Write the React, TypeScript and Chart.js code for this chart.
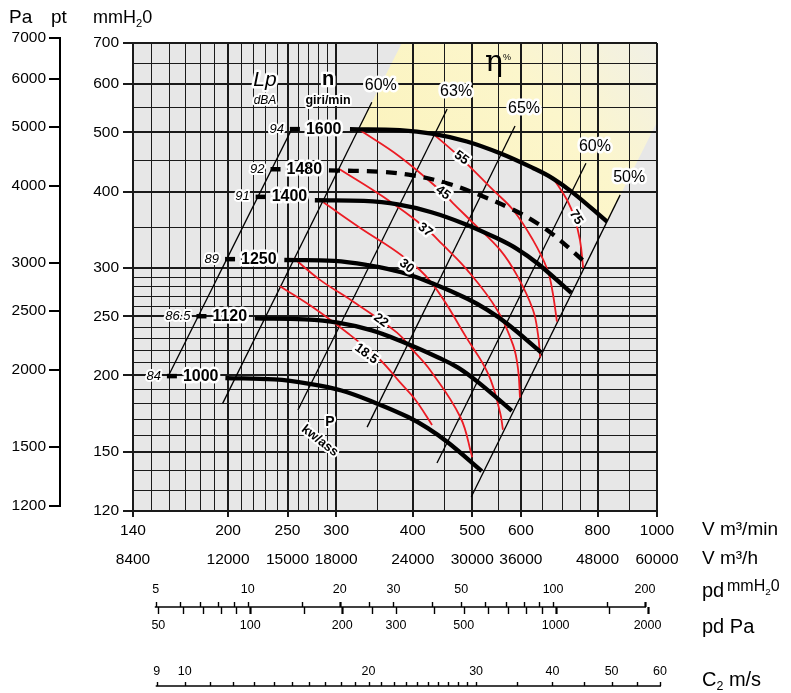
import React, { useEffect, useRef } from 'react';
import { Chart, registerables } from 'chart.js';

Chart.register(...registerables);

const FONT = '"Liberation Sans", Arial, Helvetica, sans-serif';
const PA_PER_MM = 9.81;

// ---------- Fan curves: flow V (m³/min) vs total pressure pt (mmH2O) ----------
const speedLabels = ['1600', '1480', '1400', '1250', '1120', '1000'];
const flow1600 = [316, 381, 432, 490, 555, 628, 677, 730, 829];
const press1600 = [506, 504, 497, 483, 462, 437, 420, 398, 357];
const flow1480 = [292, 352, 400, 453, 513, 581, 626, 675, 767];
const press1480 = [433, 431, 425, 413, 395, 374, 359, 341, 305];
const flow1400 = [277, 333, 378, 429, 486, 550, 592, 639, 725];
const press1400 = [387, 386, 381, 370, 354, 335, 322, 305, 273];
const flow1250 = [247, 298, 338, 383, 434, 491, 529, 570, 648];
const press1250 = [309, 308, 303, 295, 282, 267, 256, 243, 218];
const flow1120 = [221, 267, 302, 343, 389, 440, 474, 511, 580];
const press1120 = [248, 247, 244, 237, 226, 214, 206, 195, 175];
const flow1000 = [198, 238, 270, 306, 347, 393, 423, 456, 518];
const press1000 = [198, 197, 194, 189, 180.5, 171, 164, 155.5, 139.5];

// ---------- Sound pressure level Lp (dBA) line ----------
const dbaLabels = ['94', '92', '91', '89', '86.5', '84'];
const dbaMarkFlow = [257, 239, 226, 201.5, 181, 162];
const dbaMarkPress = [506, 435, 392, 310, 250, 199.5];
const lpLineFlow = [160, 254];
const lpLinePress = [200, 506];

// ---------- Efficiency (system) lines ----------
const effLabels = ['60%', '63%', '65%', '60%', '50%'];
const effFlowLow = [196, 260, 337, 438, 498];
const effPressLow = [180, 175.6, 164.6, 143.8, 126.5];
const effFlowHigh = [343, 455, 587, 766, 871];
const effPressHigh = [560, 546, 512, 445, 395];

// ---------- Absorbed power lines P (kW) ----------
const powerLabels = ['18.5', '22', '30', '37', '45', '55', '75'];
const p185Flow = [243, 279, 316, 354, 381, 403, 430];
const p185Press = [280, 256, 233, 212, 195, 183, 166];
const p22Flow = [256, 282, 320, 377, 400, 427, 478, 500];
const p22Press = [311, 287, 264, 235, 220, 204, 171, 147];
const p30Flow = [286, 328, 386, 430, 490, 531, 555, 561];
const p30Press = [384, 349, 313, 283, 230, 201, 174, 163];
const p37Flow = [304, 358, 419, 448, 490, 549, 583, 594, 598];
const p37Press = [435, 392, 349, 327, 298, 256, 224, 204, 184];
const p45Flow = [326, 381, 448, 465, 502, 555, 592, 628, 640, 645];
const p45Press = [506, 456, 398, 383, 355, 321, 291, 256, 233, 214];
const p55Flow = [430, 481, 541, 583, 628, 662, 675, 687];
const p55Press = [499, 452, 402, 373, 333, 299, 276, 245];
const p75Flow = [677, 714, 733, 749, 758];
const p75Press = [421, 387, 363, 333, 300];
const powerLabelFlow = [336, 355, 391, 419, 448, 480, 738];
const powerLabelPress = [217, 246, 302, 346, 398, 454, 363];
const powerLabelAngle = [36, 37, 38, 38, 37, 36, 58];

// ---------- Highlighted (best efficiency) band edge ----------
const bandEdgeFlow = [326, 384, 1000, 1000];
const bandEdgePress = [506, 700, 700, 520];

// ---------- Axes ----------
const gridFlow = [140, 150, 160, 170, 180, 190, 200, 210, 220, 230, 240, 250, 260, 270, 280, 290, 300,
  350, 400, 450, 500, 550, 600, 650, 700, 750, 800, 900, 1000];
const gridPress = [120, 130, 140, 150, 160, 170, 180, 190, 200, 210, 220, 230, 240, 250, 260, 270, 280, 290, 300,
  350, 400, 450, 500, 550, 600, 650, 700];
const flowTicks = [140, 200, 250, 300, 400, 500, 600, 800, 1000];
const flowHourTicks = [8400, 12000, 15000, 18000, 24000, 30000, 36000, 48000, 60000];
const pressTicks = [120, 150, 200, 250, 300, 400, 500, 600, 700];
const paTicks = [1200, 1500, 2000, 2500, 3000, 4000, 5000, 6000, 7000];
const pdMmTicks = [5, 6, 7, 8, 9, 10, 15, 20, 25, 30, 40, 50, 60, 70, 80, 90, 100, 150, 200];
const pdMmLabels = [5, 10, 20, 30, 50, 100, 200];
const pdPaTicks = [50, 60, 70, 80, 90, 100, 150, 200, 250, 300, 400, 500, 600, 700, 800, 900, 1000, 1500, 2000];
const pdPaLabels = [50, 100, 200, 300, 500, 1000, 2000];
const c2Ticks = [9, 10, 11, 12, 13, 14, 15, 16, 17, 18, 19, 20, 21, 22, 23, 24, 25, 26, 27, 28, 29, 30,
  35, 40, 45, 50, 55, 60];
const c2Labels = [9, 10, 20, 30, 40, 50, 60];

const pts = (xs: number[], ys: number[]) => xs.map((x, i) => ({ x, y: ys[i] }));

function drawText(ctx: any, s: string, x: number, y: number, font: string, align: string = 'center',
  halo = 0, angle = 0, color = '#000') {
  ctx.save();
  ctx.translate(x, y);
  if (angle) ctx.rotate((angle * Math.PI) / 180);
  ctx.font = font;
  ctx.textAlign = align;
  ctx.textBaseline = 'middle';
  if (halo) {
    ctx.lineJoin = 'round';
    ctx.lineWidth = halo;
    ctx.strokeStyle = '#fff';
    ctx.strokeText(s, 0, 0);
  }
  ctx.fillStyle = color;
  ctx.fillText(s, 0, 0);
  ctx.restore();
}

function drawParts(ctx: any, parts: [string, string][], x: number, y: number, size: number) {
  let cx = x;
  ctx.save();
  ctx.fillStyle = '#000';
  ctx.textAlign = 'left';
  ctx.textBaseline = 'middle';
  for (const [s, kind] of parts) {
    const fs = kind === 'n' ? size : size * 0.62;
    const dy = kind === 'sub' ? size * 0.32 : kind === 'sup' ? -size * 0.35 : 0;
    ctx.font = `${fs}px ${FONT}`;
    ctx.fillText(s, cx, y + dy);
    cx += ctx.measureText(s).width;
  }
  ctx.restore();
}

const fanPlugin = {
  id: 'fanPlugin',
  beforeDatasetsDraw(chart: any) {
    const ctx = chart.ctx;
    const a = chart.chartArea;
    const sx = chart.scales.x;
    const sy = chart.scales.y;
    const sc2 = chart.scales.c2;
    const spd = chart.scales.pd;
    const X = (v: number) => sx.getPixelForValue(v);
    const Y = (v: number) => sy.getPixelForValue(v);
    ctx.save();

    // plot background
    ctx.fillStyle = '#e7e7e7';
    ctx.fillRect(a.left, a.top, a.right - a.left, a.bottom - a.top);

    // highlighted band
    ctx.save();
    ctx.beginPath();
    ctx.rect(a.left, a.top, a.right - a.left, a.bottom - a.top);
    ctx.clip();
    const grad = ctx.createLinearGradient(X(420), Y(330), X(1000), Y(700));
    grad.addColorStop(0, '#fbf3bc');
    grad.addColorStop(0.6, '#fcf6cc');
    grad.addColorStop(1, '#f1f0e6');
    ctx.fillStyle = grad;
    ctx.beginPath();
    bandEdgeFlow.forEach((f, i) => {
      const px = X(f), py = Y(bandEdgePress[i]);
      if (i) ctx.lineTo(px, py); else ctx.moveTo(px, py);
    });
    for (let i = flow1600.length - 1; i >= 0; i--) {
      if (flow1600[i] > bandEdgeFlow[0]) ctx.lineTo(X(flow1600[i]), Y(press1600[i]));
    }
    ctx.closePath();
    ctx.fill();
    ctx.restore();

    // grid
    ctx.strokeStyle = '#1a1a1a';
    gridFlow.forEach((f) => {
      const major = flowTicks.includes(f);
      ctx.lineWidth = major ? 2 : 1;
      const px = major ? Math.round(X(f)) : Math.round(X(f)) + 0.5;
      ctx.beginPath();
      ctx.moveTo(px, a.top);
      ctx.lineTo(px, a.bottom + (major ? 6 : 0));
      ctx.stroke();
    });
    gridPress.forEach((p) => {
      const major = pressTicks.includes(p);
      ctx.lineWidth = major ? 2 : 1;
      const py = major ? Math.round(Y(p)) : Math.round(Y(p)) + 0.5;
      ctx.beginPath();
      ctx.moveTo(a.left - (major ? 10 : 0), py);
      ctx.lineTo(a.right, py);
      ctx.stroke();
    });

    // left mmH2O labels
    pressTicks.forEach((p) => drawText(ctx, String(p), a.left - 14, Y(p), `15.5px ${FONT}`, 'right'));

    // Pa axis
    const axX = 60;
    ctx.lineWidth = 2;
    ctx.strokeStyle = '#000';
    ctx.beginPath();
    ctx.moveTo(axX, Y(paTicks[paTicks.length - 1] / PA_PER_MM) - 1);
    ctx.lineTo(axX, Y(paTicks[0] / PA_PER_MM) + 1);
    ctx.stroke();
    paTicks.forEach((pa) => {
      const py = Math.round(Y(pa / PA_PER_MM));
      ctx.beginPath();
      ctx.moveTo(axX - 11, py);
      ctx.lineTo(axX, py);
      ctx.stroke();
      drawText(ctx, String(pa), axX - 14, py, `15.5px ${FONT}`, 'right');
    });

    // headers
    drawText(ctx, 'Pa', 9, 18, `19px ${FONT}`, 'left');
    drawText(ctx, 'pt', 51, 18, `19px ${FONT}`, 'left');
    drawParts(ctx, [['mmH', 'n'], ['2', 'sub'], ['0', 'n']], 93, 18, 18);

    // bottom flow labels
    flowTicks.forEach((f) => drawText(ctx, String(f), X(f), 531, `15.5px ${FONT}`));
    flowHourTicks.forEach((h) => drawText(ctx, String(h), X(h / 60), 560, `15.5px ${FONT}`));
    drawText(ctx, 'V m\u00b3/min', 702, 530, `19px ${FONT}`, 'left');
    drawText(ctx, 'V m\u00b3/h', 702, 559, `19px ${FONT}`, 'left');

    // dynamic pressure axis
    const PDY = 607;
    const PX = (mm: number) => spd.getPixelForValue(mm);
    ctx.lineWidth = 1.6;
    ctx.beginPath();
    ctx.moveTo(PX(pdMmTicks[0]) - 1, PDY);
    ctx.lineTo(PX(pdMmTicks[pdMmTicks.length - 1]) + 1, PDY);
    ctx.stroke();
    pdMmTicks.forEach((v) => {
      const px = Math.round(PX(v)) + 0.5;
      ctx.lineWidth = v === 20 || v === 200 ? 2.2 : 1.4;
      ctx.beginPath();
      ctx.moveTo(px, PDY - 5);
      ctx.lineTo(px, PDY);
      ctx.stroke();
    });
    pdPaTicks.forEach((v) => {
      const px = Math.round(PX(v / PA_PER_MM)) + 0.5;
      ctx.lineWidth = v === 100 || v === 200 || v === 1000 || v === 2000 ? 2.2 : 1.4;
      ctx.beginPath();
      ctx.moveTo(px, PDY);
      ctx.lineTo(px, PDY + 7);
      ctx.stroke();
    });
    pdMmLabels.forEach((v) => drawText(ctx, String(v), PX(v), 590, `12.5px ${FONT}`));
    pdPaLabels.forEach((v) => drawText(ctx, String(v), PX(v / PA_PER_MM), 626, `12.5px ${FONT}`));
    drawText(ctx, 'pd', 702, 591, `20px ${FONT}`, 'left');
    drawParts(ctx, [['mmH', 'n'], ['2', 'sub'], ['0', 'n']], 727, 587, 16);
    drawText(ctx, 'pd Pa', 702, 627, `20px ${FONT}`, 'left');

    // outlet velocity axis
    const C2Y = 686;
    const CX = (v: number) => sc2.getPixelForValue(v);
    ctx.lineWidth = 1.6;
    ctx.beginPath();
    ctx.moveTo(CX(c2Ticks[0]) - 1, C2Y);
    ctx.lineTo(CX(c2Ticks[c2Ticks.length - 1]) + 1, C2Y);
    ctx.stroke();
    ctx.lineWidth = 1.4;
    c2Ticks.forEach((v) => {
      const px = Math.round(CX(v)) + 0.5;
      ctx.beginPath();
      ctx.moveTo(px, C2Y - 4);
      ctx.lineTo(px, C2Y);
      ctx.stroke();
    });
    c2Labels.forEach((v) => drawText(ctx, String(v), CX(v), 672, `12.5px ${FONT}`));
    drawParts(ctx, [['C', 'n'], ['2', 'sub'], [' m/s', 'n']], 702, 680, 20);

    ctx.restore();
  },
  afterDatasetsDraw(chart: any) {
    const ctx = chart.ctx;
    const sx = chart.scales.x;
    const sy = chart.scales.y;
    const X = (v: number) => sx.getPixelForValue(v);
    const Y = (v: number) => sy.getPixelForValue(v);
    ctx.save();

    // dBA marks and speed labels
    dbaLabels.forEach((lab, i) => {
      const px = X(dbaMarkFlow[i]);
      const py = Y(dbaMarkPress[i]);
      drawText(ctx, lab, px - 11, py, `italic 13px ${FONT}`, 'right', 4);
      drawText(ctx, speedLabels[i], px + 11, py, `bold 16px ${FONT}`, 'left', 5);
      ctx.strokeStyle = '#000';
      ctx.lineWidth = 4.5;
      ctx.beginPath();
      ctx.moveTo(px - 5, py);
      ctx.lineTo(px + 5, py);
      ctx.stroke();
    });

    drawText(ctx, 'Lp', 265, 80, `italic 21px ${FONT}`, 'center', 5);
    drawText(ctx, 'dBA', 265, 101, `italic 12px ${FONT}`, 'center', 4);
    drawText(ctx, 'n', 328, 79, `bold 20px ${FONT}`, 'center', 5);
    drawText(ctx, 'giri/min', 328, 101, `bold 12.5px ${FONT}`, 'center', 4);

    // efficiency labels
    effLabels.forEach((lab, i) => {
      drawText(ctx, lab, X(effFlowHigh[i]) + 9, Y(effPressHigh[i]) - 17, `16px ${FONT}`, 'center', 5);
    });
    drawText(ctx, '\u03b7', 494, 63, `30px "DejaVu Serif", serif`, 'center');
    drawText(ctx, '%', 507, 58, `9px ${FONT}`, 'center');

    // power labels
    powerLabels.forEach((lab, i) => {
      drawText(ctx, lab, X(powerLabelFlow[i]), Y(powerLabelPress[i]), `bold 13px ${FONT}`, 'center', 5,
        powerLabelAngle[i]);
    });
    const ppx = X(293), ppy = Y(168);
    drawText(ctx, 'P', ppx, ppy, `bold 14px ${FONT}`, 'center', 4);
    drawText(ctx, 'kw/ass', ppx - 10, ppy + 19, `bold 13px ${FONT}`, 'center', 4, 38);

    ctx.restore();
  },
};

function buildDatasets() {
  const ds: any[] = [];
  const curves: [number[], number[], number[]][] = [
    [flow1600, press1600, []],
    [flow1480, press1480, [11, 8]],
    [flow1400, press1400, []],
    [flow1250, press1250, []],
    [flow1120, press1120, []],
    [flow1000, press1000, []],
  ];
  curves.forEach(([f, p, dash]) => {
    ds.push({
      data: pts(f, p), borderColor: '#000', borderWidth: 4.3, borderDash: dash, pointRadius: 0,
      tension: 0.4, order: 0, borderCapStyle: 'butt', fill: false,
    });
  });
  const power: [number[], number[]][] = [
    [p185Flow, p185Press], [p22Flow, p22Press], [p30Flow, p30Press], [p37Flow, p37Press],
    [p45Flow, p45Press], [p55Flow, p55Press], [p75Flow, p75Press],
  ];
  power.forEach(([f, p]) => {
    ds.push({
      data: pts(f, p), borderColor: '#ec1c24', borderWidth: 1.8, pointRadius: 0,
      tension: 0.4, order: 1, fill: false,
    });
  });
  effLabels.forEach((_, i) => {
    ds.push({
      data: pts([effFlowLow[i], effFlowHigh[i]], [effPressLow[i], effPressHigh[i]]),
      borderColor: '#000', borderWidth: 1.3, pointRadius: 0, tension: 0, order: 2, fill: false,
    });
  });
  ds.push({
    data: pts(lpLineFlow, lpLinePress), borderColor: '#000', borderWidth: 1.3, pointRadius: 0,
    tension: 0, order: 2, fill: false,
  });
  return ds;
}

export default function App() {
  const ref = useRef<HTMLCanvasElement>(null);
  useEffect(() => {
    const canvas = ref.current;
    if (!canvas) return;
    const chart = new Chart(canvas, {
      type: 'line',
      data: { datasets: buildDatasets() },
      options: {
        animation: false,
        responsive: false,
        maintainAspectRatio: false,
        devicePixelRatio: 1,
        events: [],
        layout: { padding: { left: 133, top: 43, right: 134, bottom: 182 } },
        plugins: { legend: { display: false }, tooltip: { enabled: false } },
        scales: {
          x: { type: 'logarithmic', min: 140, max: 1000, display: false },
          y: { type: 'logarithmic', min: 120, max: 700, display: false },
          c2: { type: 'logarithmic', axis: 'x', position: 'bottom', min: 8.23, max: 59.33, display: false },
          pd: { type: 'logarithmic', axis: 'x', position: 'bottom', min: 4.21, max: 218.9, display: false },
        },
      } as any,
      plugins: [fanPlugin as any],
    });
    return () => chart.destroy();
  }, []);
  return (
    <div style={{ position: 'fixed', left: 0, top: 0, width: 791, height: 693, background: '#fff' }}>
      <canvas ref={ref} width={791} height={693} style={{ display: 'block', width: 791, height: 693 }} />
    </div>
  );
}
